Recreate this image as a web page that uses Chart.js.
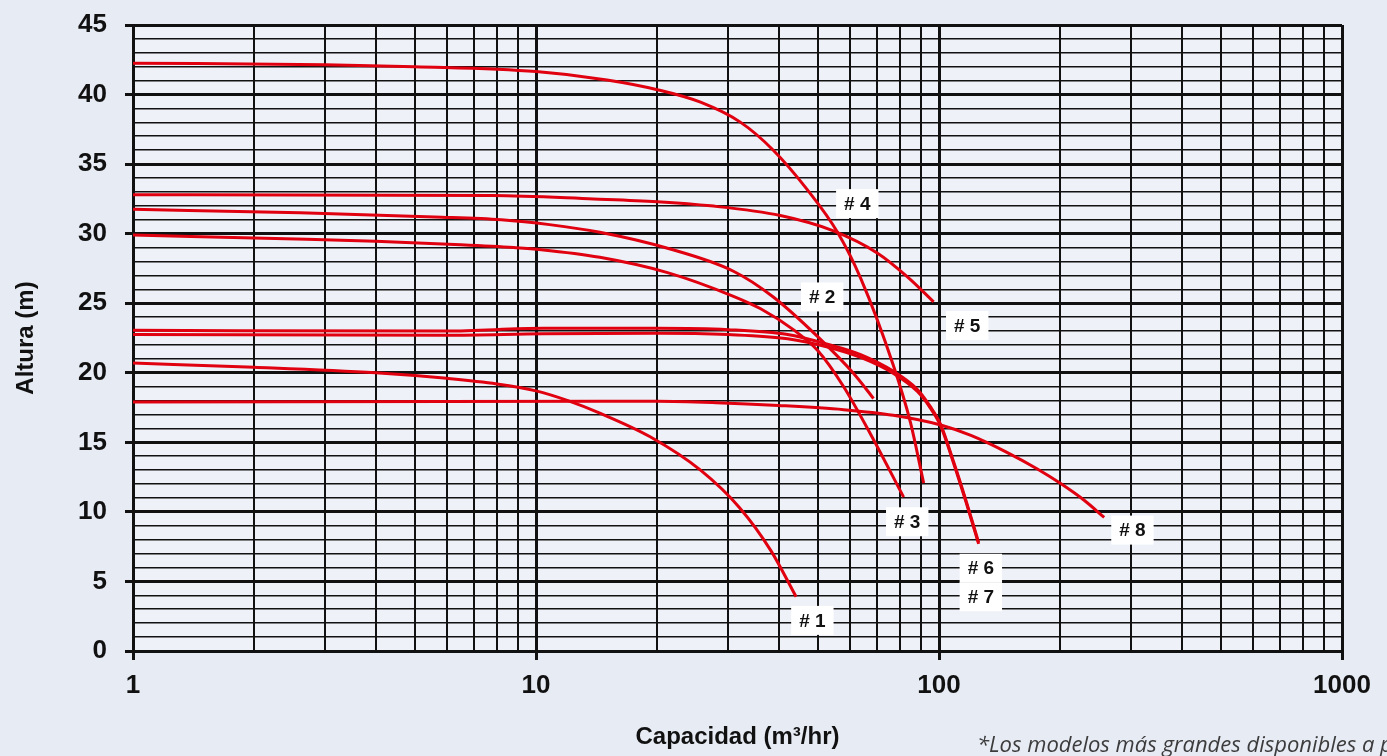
<!DOCTYPE html>
<html>
<head>
<meta charset="utf-8">
<title>Curvas de bombas</title>
<script src="https://cdn.jsdelivr.net/npm/chart.js@4.4.1/dist/chart.umd.min.js"></script>
<style>
  html, body { margin: 0; padding: 0; background: #e7ebf4; overflow: hidden; }
  #wrap { position: relative; width: 1387px; height: 756px; }
</style>
</head>
<body>
<div id="wrap"><canvas id="pumpCurves"></canvas></div>
<script>
// capacidad (m3/hr) y altura (m), una pareja por bomba
const pump1Q = [1, 2, 4, 6, 8, 10, 12, 14.4, 19.2, 25.6, 32, 38.3, 44.2];
const pump1H = [20.7, 20.4, 20.0, 19.6, 19.2, 18.7, 18.0, 17.1, 15.4, 13.0, 10.3, 7.2, 3.9];

const pump2Q = [1, 2.6, 5.6, 8.2, 10.8, 14.4, 21.2, 30.9, 38.8, 50, 61.4, 68.8];
const pump2H = [31.75, 31.5, 31.2, 31.0, 30.65, 30.1, 28.95, 27.3, 25.45, 22.6, 19.95, 18.15];

const pump3Q = [1, 2.7, 4, 6.5, 8.8, 10.3, 14.4, 21.2, 30.9, 36.1, 43.5, 50, 58, 67.6, 81.7];
const pump3H = [29.9, 29.6, 29.45, 29.2, 29.0, 28.85, 28.3, 27.2, 25.5, 24.6, 23.1, 21.6, 19.0, 15.6, 11.06];

const pump4Q = [1, 3, 5, 10, 15, 20, 25.6, 32.2, 38.8, 47, 56, 63.9, 77.1, 85, 91.6];
const pump4H = [42.25, 42.15, 42.0, 41.65, 41.05, 40.35, 39.45, 38.0, 36.0, 33.2, 30.1, 26.8, 20.5, 16.4, 12.07];

const pump5Q = [1, 7.8, 13.9, 20, 27.1, 40.4, 54.7, 70.4, 83.5, 97];
const pump5H = [32.8, 32.75, 32.5, 32.3, 32.0, 31.3, 30.2, 28.6, 26.9, 25.1];

const pump6Q = [1, 6, 10.4, 20, 30, 42.1, 52.9, 63.9, 77.1, 88.4, 95, 100.9, 108.7, 117, 125.4];
const pump6H = [23.05, 23.0, 23.2, 23.2, 23.1, 22.75, 22.05, 21.3, 20.1, 18.8, 17.6, 16.3, 13.6, 10.7, 7.8];

const pump7Q = [1, 6, 10.4, 20, 30, 42.1, 52.9, 63.9, 77.1, 88.4, 95, 100.9, 108.7, 117, 125.4];
const pump7H = [22.75, 22.7, 22.8, 22.85, 22.75, 22.45, 21.85, 21.1, 19.95, 18.65, 17.5, 16.2, 13.5, 10.6, 7.7];

const pump8Q = [1, 14.4, 20, 28, 40, 58, 77, 101, 120, 147, 175, 200, 230, 257];
const pump8H = [17.9, 17.95, 17.95, 17.85, 17.65, 17.35, 16.95, 16.25, 15.5, 14.3, 13.1, 12.05, 10.8, 9.6];

// etiquetas de las curvas (posicion en unidades de la grafica)
const tagText = ['# 1', '# 2', '# 3', '# 4', '# 5', '# 6', '# 7', '# 8'];
const tagQ = [48.5, 51.3, 83.4, 62.7, 117.5, 127, 127, 302];
const tagH = [2.2, 25.45, 9.29, 32.16, 23.4, 5.95, 3.9, 8.69];

// rejilla y marcas de los ejes
const xGridValues = [1, 2, 3, 4, 5, 6, 7, 8, 9, 10, 20, 30, 40, 50, 60, 70, 80, 90,
                     100, 200, 300, 400, 500, 600, 700, 800, 900, 1000];
const xTickLabels = [1, 10, 100, 1000];
const yMajorStep = 5;

const footNote = '*Los modelos más grandes disponibles a petición';

const RED = '#e0000f';
const INK = '#111111';

function toPoints(q, h) {
    return q.map((v, i) => ({ x: v, y: h[i] }));
}

const curves = [
    [pump1Q, pump1H], [pump2Q, pump2H], [pump3Q, pump3H], [pump4Q, pump4H],
    [pump5Q, pump5H], [pump6Q, pump6H], [pump7Q, pump7H], [pump8Q, pump8H]
];

const backgroundPlugin = {
    id: 'backgroundPlugin',
    beforeDraw: function (chart) {
        const ctx = chart.ctx;
        const a = chart.chartArea;
        ctx.save();
        ctx.fillStyle = '#e7ebf4';
        ctx.fillRect(0, 0, chart.width, chart.height);
        ctx.fillStyle = '#eef1f8';
        ctx.fillRect(a.left, a.top, a.right - a.left, a.bottom - a.top);
        ctx.restore();
    }
};

const tagPlugin = {
    id: 'tagPlugin',
    afterDatasetsDraw: function (chart) {
        const ctx = chart.ctx;
        const xs = chart.scales.x;
        const ys = chart.scales.y;
        ctx.save();
        ctx.font = 'bold 19px "Liberation Sans", Arial, sans-serif';
        ctx.textAlign = 'center';
        ctx.textBaseline = 'middle';
        tagText.forEach(function (t, i) {
            const px = xs.getPixelForValue(tagQ[i]);
            const py = ys.getPixelForValue(tagH[i]);
            const w = ctx.measureText(t).width + 16;
            const h = 29;
            ctx.fillStyle = '#ffffff';
            ctx.fillRect(px - w / 2, py - h / 2, w, h);
        });
        tagText.forEach(function (t, i) {
            const px = xs.getPixelForValue(tagQ[i]);
            const py = ys.getPixelForValue(tagH[i]);
            ctx.fillStyle = INK;
            ctx.fillText(t, px, py + 1);
        });
        ctx.restore();
    },
    afterDraw: function (chart) {
        const ctx = chart.ctx;
        ctx.save();
        ctx.font = 'italic 22px "Open Sans", sans-serif';
        ctx.fillStyle = '#3c3c3c';
        ctx.textAlign = 'left';
        ctx.textBaseline = 'alphabetic';
        ctx.fillText(footNote, 977, 752);
        ctx.restore();
    }
};

const ctx = document.getElementById('pumpCurves').getContext('2d');
window.pumpChart = new Chart(ctx, {
    type: 'scatter',
    data: {
        datasets: curves.map(function (c, i) {
            return {
                label: tagText[i],
                data: toPoints(c[0], c[1]),
                showLine: true,
                borderColor: RED,
                backgroundColor: RED,
                borderWidth: 3,
                pointRadius: 0,
                cubicInterpolationMode: 'monotone'
            };
        })
    },
    options: {
        responsive: true,
        maintainAspectRatio: false,
        animation: false,
        layout: {
            padding: { top: 25, right: 45, bottom: 0, left: 0 }
        },
        plugins: {
            legend: { display: false },
            tooltip: { enabled: false }
        },
        scales: {
            x: {
                type: 'logarithmic',
                min: 1,
                max: 1000,
                afterBuildTicks: function (scale) {
                    scale.ticks = xGridValues.map(v => ({ value: v }));
                },
                afterFit: function (scale) {
                    scale.height = 105;
                },
                ticks: {
                    autoSkip: false,
                    maxRotation: 0,
                    padding: 10,
                    color: INK,
                    font: { family: '"Liberation Sans", Arial, sans-serif', size: 26, weight: 'bold' },
                    callback: function (value) {
                        return xTickLabels.includes(value) ? String(value) : '';
                    }
                },
                grid: {
                    color: INK,
                    lineWidth: c => (c.tick && xTickLabels.includes(c.tick.value)) ? 3 : 2,
                    tickLength: 9,
                    tickColor: c => (c.tick && xTickLabels.includes(c.tick.value)) ? INK : 'rgba(0,0,0,0)'
                },
                border: { color: INK, width: 3 },
                title: {
                    display: true,
                    text: 'Capacidad (m³/hr)',
                    color: INK,
                    font: { family: '"Liberation Sans", Arial, sans-serif', size: 24, weight: 'bold' },
                    padding: { top: 0, bottom: 4 }
                }
            },
            y: {
                type: 'linear',
                min: 0,
                max: 45,
                afterFit: function (scale) {
                    scale.width = 133;
                    scale.paddingTop = 12;
                    scale.paddingBottom = 12;
                },
                ticks: {
                    stepSize: 1,
                    autoSkip: false,
                    padding: 18,
                    color: INK,
                    font: { family: '"Liberation Sans", Arial, sans-serif', size: 26, weight: 'bold' },
                    callback: v => v % yMajorStep === 0 ? String(v) : ''
                },
                grid: {
                    color: INK,
                    lineWidth: c => (c.tick && c.tick.value % yMajorStep === 0) ? 3 : 1.6,
                    tickLength: 8,
                    tickColor: c => (c.tick && c.tick.value % yMajorStep === 0) ? INK : 'rgba(0,0,0,0)'
                },
                border: { color: INK, width: 3 },
                title: {
                    display: true,
                    text: 'Altura (m)',
                    color: INK,
                    font: { family: '"Liberation Sans", Arial, sans-serif', size: 24, weight: 'bold' },
                    padding: { top: 12, bottom: 0 }
                }
            }
        }
    },
    plugins: [backgroundPlugin, tagPlugin]
});
</script>
</body>
</html>
